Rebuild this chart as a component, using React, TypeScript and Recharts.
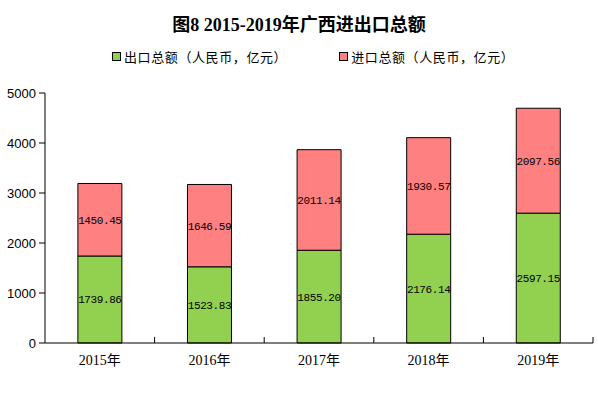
import { BarChart, Bar, XAxis, YAxis, LabelList, Legend } from 'recharts'

const years = ['2015年', '2016年', '2017年', '2018年', '2019年']
const exportValues = [1739.86, 1523.83, 1855.2, 2176.14, 2597.15]
const importValues = [1450.45, 1646.59, 2011.14, 1930.57, 2097.56]
const yTicks = [0, 1000, 2000, 3000, 4000, 5000]

const seriesNames = ['出口总额（人民币，亿元）', '进口总额（人民币，亿元）']
const colors = ['#92D050', '#FF8080']

const data = years.map((year, i) => ({
  year,
  exp: exportValues[i],
  imp: importValues[i],
}))

const cjk = '"Liberation Serif", "Noto Sans CJK SC", serif'
const labelStyle = { fill: '#000', fontSize: 11, letterSpacing: -0.4, fontFamily: '"Liberation Mono", monospace' }

// category label plus the small inward tick on the band's right edge
const YearTick = (props: any) => {
  const { x, y, payload } = props
  const half = payload.offset || 0
  return (
    <g>
      <line x1={x + half} x2={x + half} y1={y} y2={y - 6} stroke="#000" />
      <text x={x} y={y} dy={22} textAnchor="middle" fill="#000" fontSize={14} fontFamily={cjk}>
        {payload.value}
      </text>
    </g>
  )
}

const LegendBox = () => (
  <div style={{ display: 'flex', paddingLeft: 112, gap: 52, fontFamily: '"Noto Sans CJK SC", sans-serif', fontSize: 13, color: '#000' }}>
    {seriesNames.map((name, i) => (
      <div key={name} style={{ display: 'flex', alignItems: 'center' }}>
        <span style={{ display: 'inline-block', width: 7, height: 7, background: colors[i], border: '1px solid #000', marginRight: 3 }} />
        <span style={{ letterSpacing: 0.6 }}>{name}</span>
      </div>
    ))}
  </div>
)

export default function App() {
  return (
    <div style={{ position: 'absolute', left: 0, top: 0, width: 598, height: 394, background: '#fff' }}>
      <div style={{ position: 'absolute', top: 10, width: 598, textAlign: 'center', fontFamily: cjk, fontWeight: 'bold', fontSize: 18, color: '#000' }}>
        图8 2015-2019年广西进出口总额
      </div>
      <BarChart width={598} height={394} data={data} margin={{ top: 93, right: 5, bottom: 21, left: 0 }} barCategoryGap="30%">
        <Legend verticalAlign="middle" layout="horizontal" wrapperStyle={{ top: 47, left: 0, width: 598 }} content={<LegendBox />} />
        <XAxis dataKey="year" tickLine={false} axisLine={{ stroke: '#000' }} height={30} tickSize={0} tickMargin={0}
          tick={<YearTick />} />
        <YAxis domain={[0, 5000]} ticks={yTicks} width={45} tickSize={6} tickMargin={3}
          axisLine={{ stroke: '#000' }} tickLine={{ stroke: '#000' }}
          tick={{ fill: '#000', fontSize: 13, fontFamily: '"Liberation Sans", sans-serif' }} />
        <Bar dataKey="exp" stackId="a" fill={colors[0]} stroke="#000" strokeWidth={1} isAnimationActive={false}>
          <LabelList dataKey="exp" position="center" formatter={(v: number) => v.toFixed(2)} style={labelStyle} />
        </Bar>
        <Bar dataKey="imp" stackId="a" fill={colors[1]} stroke="#000" strokeWidth={1} isAnimationActive={false}>
          <LabelList dataKey="imp" position="center" formatter={(v: number) => v.toFixed(2)} style={labelStyle} />
        </Bar>
      </BarChart>
    </div>
  )
}
